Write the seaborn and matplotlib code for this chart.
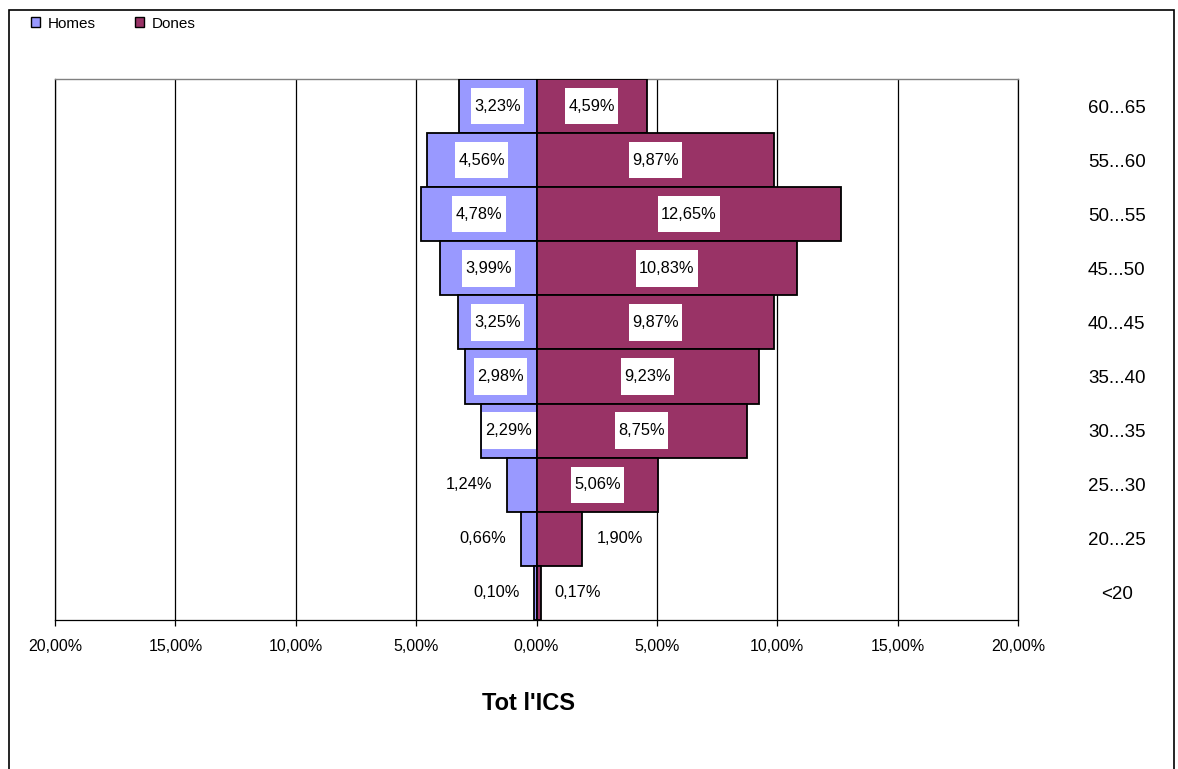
import matplotlib
matplotlib.use("Agg")
import matplotlib.pyplot as plt
import seaborn as sns
import numpy as np
from matplotlib.patches import Patch, Rectangle
from matplotlib.path import Path
from matplotlib.ticker import FuncFormatter

# ---------------- data ----------------
age_groups = ["60...65", "55...60", "50...55", "45...50", "40...45",
              "35...40", "30...35", "25...30", "20...25", "<20"]
homes = [3.23, 4.56, 4.78, 3.99, 3.25, 2.98, 2.29, 1.24, 0.66, 0.10]
dones = [4.59, 9.87, 12.65, 10.83, 9.87, 9.23, 8.75, 5.06, 1.90, 0.17]
series_names = ["Homes", "Dones"]
x_ticks = [-20, -15, -10, -5, 0, 5, 10, 15, 20]
title = "Tot l'ICS"

# ---------------- style ----------------
sns.set_theme(style="white")
plt.rcParams["font.family"] = ["Liberation Sans", "DejaVu Sans"]
plt.rcParams["text.color"] = "black"
plt.rcParams["xtick.labelcolor"] = "black"
plt.rcParams["ytick.labelcolor"] = "black"

C_HOMES = "#9999FF"
C_DONES = "#993366"

W, H, DPI = 1178, 769, 100
fig = plt.figure(figsize=(W / DPI, H / DPI), dpi=DPI)
ax = fig.add_axes([55 / W, 1 - 620 / H, (1018 - 55) / W, (620 - 79) / H])

neg_homes = [-v for v in homes]
sns.barplot(x=neg_homes, y=age_groups, orient="h", width=1.0, color=C_HOMES,
            saturation=1, edgecolor="black", linewidth=1.3, ax=ax, zorder=3)
sns.barplot(x=dones, y=age_groups, orient="h", width=1.0, color=C_DONES,
            saturation=1, edgecolor="black", linewidth=1.3, ax=ax, zorder=3)

ax.set_xlim(-20, 20)
ax.set_xticks(x_ticks)
ax.xaxis.set_major_formatter(FuncFormatter(lambda v, p: f"{abs(v):.2f}%".replace(".", ",")))
ax.set_xlabel("")
ax.set_ylabel("")

# grid
ax.set_axisbelow(True)
ax.xaxis.grid(True, color="black", linewidth=0.9)
ax.yaxis.grid(False)

# spines
for s in ["left", "right", "bottom"]:
    ax.spines[s].set_visible(True)
    ax.spines[s].set_color("black")
    ax.spines[s].set_linewidth(0.9)
ax.spines["top"].set_color("#808080")
ax.spines["top"].set_linewidth(1.0)

ax.tick_params(axis="x", direction="out", length=4, width=0.9, color="black",
               labelsize=11.5, pad=10, bottom=True, labelcolor="black")
ax.tick_params(axis="y", left=False, right=False, labelleft=False, labelright=True,
               labelsize=13.5, pad=65, labelcolor="black")
for lab in ax.get_yticklabels():
    lab.set_horizontalalignment("center")


# value labels with white boxes
def tall_box(x0, y0, width, height, mutation_size):
    px = 0.2 * mutation_size
    py = 0.65 * mutation_size
    x0, y0 = x0 - px, y0 - py
    x1, y1 = x0 + width + 2 * px, y0 + height + 2 * py
    return Path([(x0, y0), (x1, y0), (x1, y1), (x0, y1), (x0, y0)],
                closed=True)


box = dict(boxstyle=tall_box, facecolor="white", edgecolor="none")
for i, (h, d) in enumerate(zip(homes, dones)):
    for val, sign in ((h, -1), (d, 1)):
        txt = f"{val:.2f}%".replace(".", ",")
        if val >= 2.0:
            ax.text(sign * val / 2, i, txt, ha="center", va="center",
                    fontsize=11.8, color="black", bbox=box, zorder=5)
        else:
            ax.annotate(txt, xy=(sign * val, i), xytext=(sign * 27, 0),
                        textcoords="offset points", ha="center", va="center",
                        fontsize=11.8, color="black", bbox=box, zorder=5)

# title below
fig.text(528 / W, 1 - 703 / H, title, ha="center", va="center",
         fontsize=17, fontweight="bold", color="black")

# legend
handles = [Patch(facecolor=C_HOMES, edgecolor="black", linewidth=1.0),
           Patch(facecolor=C_DONES, edgecolor="black", linewidth=1.0)]
leg = fig.legend(handles, series_names, loc="upper left",
                 bbox_to_anchor=(26 / W, 1 - 12 / H), ncol=2, frameon=False,
                 fontsize=11, handlelength=0.6, handleheight=0.6,
                 handletextpad=0.5, columnspacing=2.6, borderaxespad=0,
                 borderpad=0.3, labelcolor="black")

# outer frame (bottom edge out of view)
frame = Rectangle((9 / W, -0.2), (1174 - 9) / W, 1.2 - 10 / H,
                  transform=fig.transFigure, fill=False, edgecolor="black",
                  linewidth=1.2, clip_on=False)
fig.patches.append(frame)

fig.savefig("out.png", dpi=DPI, facecolor="white")
